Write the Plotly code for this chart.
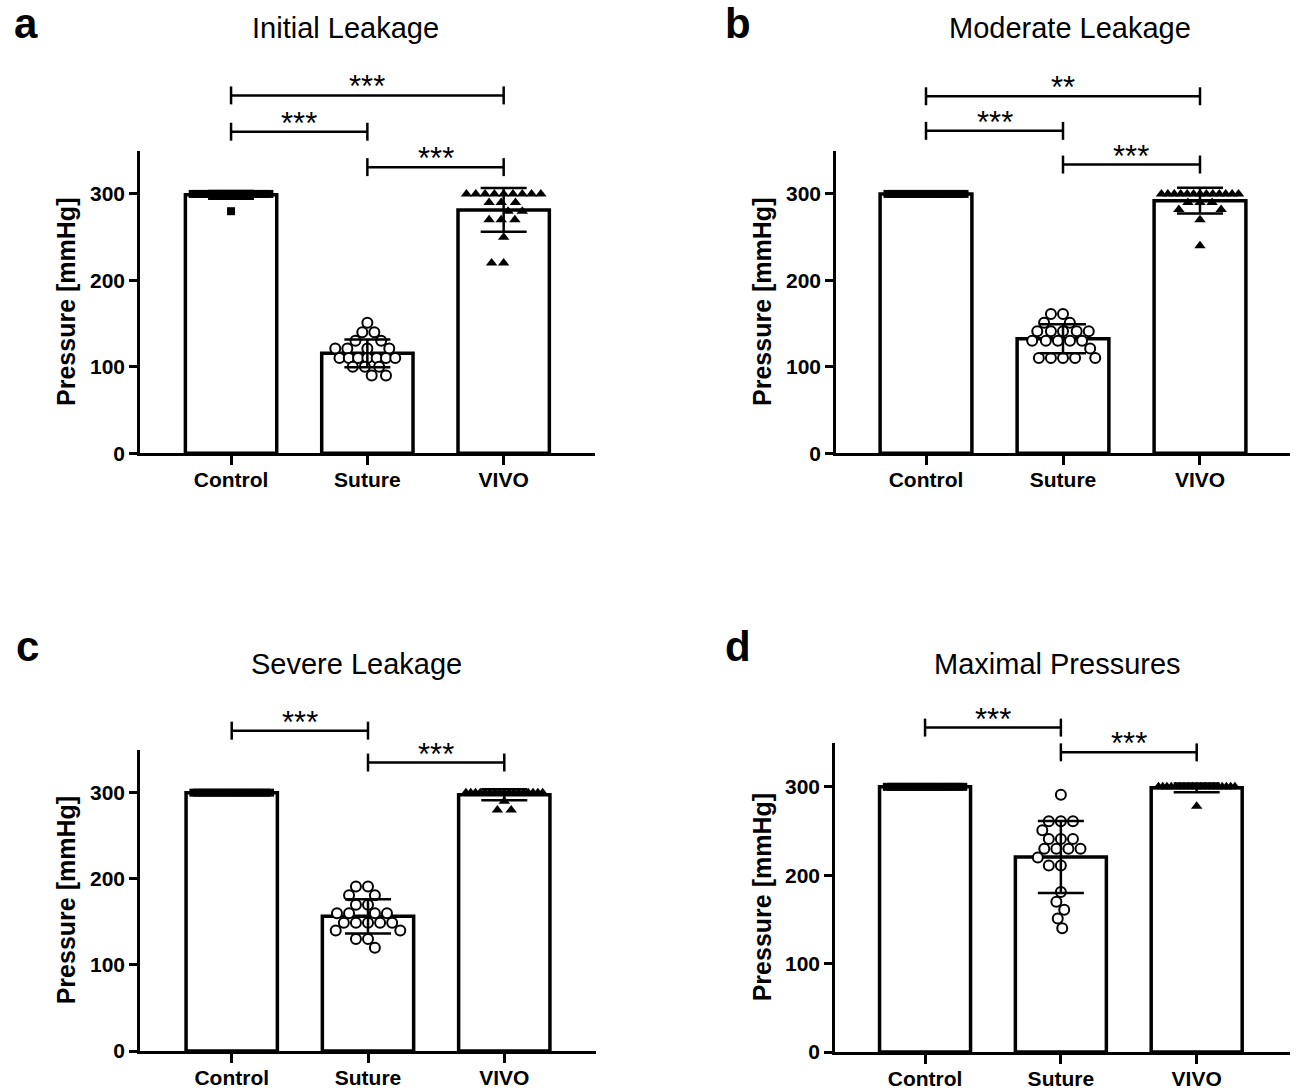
import numpy as np
import plotly.graph_objects as go

W, H = 1298, 1090
H_MAP = 1079  # vertical pixel mapping calibrated against the rendered page
categories = ["Control", "Suture", "VIVO"]
y_ticks = [0, 100, 200, 300]

# ---------------- data (mmHg) ----------------
# a: Initial Leakage
a_control = [300, 300, 300, 300, 300, 300, 300, 300, 300, 300,
             300, 300, 300, 300, 300, 300, 300, 300, 300, 280]
a_suture = [151, 140, 140, 130, 130, 121, 121, 121, 121, 110, 110,
            110, 110, 110, 110, 110, 100, 100, 100, 90, 90]
a_vivo = [300, 300, 300, 300, 300, 300, 300, 300, 300, 290,
          290, 290, 280, 280, 270, 270, 270, 250, 220, 220]
a_brackets = [(0, 2, 414, "***"), (0, 1, 372, "***"), (1, 2, 331, "***")]

# b: Moderate Leakage
b_control = [300, 300, 300, 300, 300, 300, 300, 300, 300, 300,
             300, 300, 300, 300, 300, 300, 300, 300, 300, 300]
b_suture = [161, 161, 151, 151, 141, 141, 141, 141, 141, 130,
            130, 130, 130, 130, 121, 110, 110, 110, 110, 110]
b_vivo = [300, 300, 300, 300, 300, 300, 300, 300, 300, 300,
          300, 300, 300, 290, 290, 290, 282, 282, 270, 240]
b_brackets = [(0, 2, 413, "**"), (0, 1, 373, "***"), (1, 2, 334, "***")]

# c: Severe Leakage
c_control = [300, 300, 300, 300, 300, 300, 300, 300, 300, 300,
             300, 300, 300, 300, 300, 300, 300, 300, 300, 300]
c_suture = [191, 191, 181, 181, 170, 170, 160, 160, 160, 160,
            149, 149, 149, 149, 149, 140, 140, 130, 130, 120]
c_vivo = [300, 300, 300, 300, 300, 300, 300, 300, 300, 300,
          300, 300, 300, 300, 300, 300, 300, 290, 280, 280]
c_brackets = [(0, 1, 372, "***"), (1, 2, 335, "***")]

# d: Maximal Pressures
d_control = [300, 300, 300, 300, 300, 300, 300, 300, 300, 300,
             300, 300, 300, 300, 300, 300, 300, 300, 300, 300]
d_suture = [291, 261, 261, 261, 251, 241, 241, 241, 230, 230,
            230, 230, 220, 211, 211, 181, 170, 161, 151, 140]
d_vivo = [300, 300, 300, 300, 300, 300, 300, 300, 300, 300,
          300, 300, 300, 300, 300, 300, 300, 300, 300, 278]
d_brackets = [(0, 1, 367, "***"), (1, 2, 339, "***")]

# ---------------- layout geometry (pixels) ----------------
panels = [
    dict(letter="a", title="Initial Leakage", groups=(a_control, a_suture, a_vivo),
         brackets=a_brackets, box=(140, 595, 454, 151), xr=(-0.668, 2.67),
         title_px=(345, 28), letter_px=(26, 24), ytitle_x=66),
    dict(letter="b", title="Moderate Leakage", groups=(b_control, b_suture, b_vivo),
         brackets=b_brackets, box=(836, 1290, 454, 151), xr=(-0.657, 2.657),
         title_px=(1070, 28), letter_px=(738, 24), ytitle_x=762),
    dict(letter="c", title="Severe Leakage", groups=(c_control, c_suture, c_vivo),
         brackets=c_brackets, box=(140, 596, 1053, 751), xr=(-0.673, 2.673),
         title_px=(356, 665), letter_px=(27, 648), ytitle_x=66),
    dict(letter="d", title="Maximal Pressures", groups=(d_control, d_suture, d_vivo),
         brackets=d_brackets, box=(835, 1290, 1054, 744), xr=(-0.663, 2.687),
         title_px=(1057, 665), letter_px=(738, 648), ytitle_x=762),
]

YMAX = 350
BAR_W = 0.67
FONT = "Liberation Sans"
symbols = [dict(symbol="square", size=8, color="black", line=dict(width=0)),
           dict(symbol="circle", size=10, color="white", line=dict(width=2, color="black")),
           dict(symbol="triangle-up", size=10, color="black", line=dict(width=0))]


def px_to_paper(px, py):
    return px / W, 1 - py / H_MAP


def data_to_px(p, xv, yv):
    left, right, bottom, top = p["box"]
    x0, x1 = p["xr"]
    px = left + (xv - x0) / (x1 - x0) * (right - left)
    py = bottom - yv / YMAX * (bottom - top)
    return px, py


def swarm(vals, unit_y, unit_x, bar_px, D=10.5, row_sp=9.3, stretch=1.15):
    vals = list(vals)
    n = len(vals)
    xs = [None] * n
    placed = []  # (x, y, collision distance)
    counts = {}
    for v in vals:
        counts[v] = counts.get(v, 0) + 1
    for v, c in counts.items():
        if c >= 6:
            full = (c - 1) * row_sp
            span = min(full, 0.84 * bar_px)
            idx = [i for i in range(n) if vals[i] == v]
            for k, i in enumerate(idx):
                x = (-span / 2 + span * k / (c - 1)) / stretch
                xs[i] = x
                placed.append((x, v * unit_y, 0.55 * D if span < full else 0.85 * D))
    order = sorted(range(n), key=lambda i: -vals[i])
    for i in order:
        if xs[i] is not None:
            continue
        y = vals[i] * unit_y
        cands = [0.0]
        for (qx, qy, dq) in placed:
            dy = abs(qy - y)
            if dy < dq:
                dx = (dq * dq - dy * dy) ** 0.5
                cands += [qx - dx, qx + dx]
        cands.sort(key=lambda c: (round(abs(c), 6), c))
        for c in cands:
            if all((c - qx) ** 2 + (y - qy) ** 2 >= dq * dq - 1e-6 for qx, qy, dq in placed):
                xs[i] = c
                break
        placed.append((xs[i], y, D))
    return [x * stretch / unit_x for x in xs]


fig = go.Figure()
annotations = []
shapes = []
layout_axes = {}

for k, p in enumerate(panels):
    sfx = "" if k == 0 else str(k + 1)
    xa, ya = "x" + sfx, "y" + sfx
    left, right, bottom, top = p["box"]
    x0, x1 = p["xr"]
    unit_x = (right - left) / (x1 - x0)
    unit_y = (bottom - top) / YMAX

    means = [float(np.mean(g)) for g in p["groups"]]
    sds = [float(np.std(g, ddof=1)) for g in p["groups"]]

    fig.add_trace(go.Bar(x=[0, 1, 2], y=means, width=BAR_W, xaxis=xa, yaxis=ya,
                         marker=dict(color="white", line=dict(color="black", width=3.5)),
                         hoverinfo="skip"))
    for gi, g in enumerate(p["groups"]):
        offs = swarm(g, unit_y, unit_x, BAR_W * unit_x)
        fig.add_trace(go.Scatter(x=[gi + o for o in offs], y=g, mode="markers",
                                 xaxis=xa, yaxis=ya, marker=symbols[gi], cliponaxis=False))
    fig.add_trace(go.Scatter(x=[0, 1, 2], y=means, mode="markers", xaxis=xa, yaxis=ya,
                             marker=dict(size=2, opacity=0),
                             error_y=dict(type="data", array=sds, visible=True,
                                          color="black", thickness=2.5, width=23)))

    xname = "xaxis" + sfx
    yname = "yaxis" + sfx
    _, yb = px_to_paper(0, bottom)
    _, yt = px_to_paper(0, top)
    layout_axes[xname] = dict(domain=[left / W, right / W], range=[x0, x1], anchor=ya,
                              tickvals=[0, 1, 2], ticktext=categories, ticks="outside",
                              ticklen=9, tickwidth=2.5, tickcolor="black",
                              ticklabelstandoff=-3,
                              showline=True, linewidth=2.5, linecolor="black",
                              showgrid=False, zeroline=False,
                              tickfont=dict(family=FONT, size=21, color="black", weight="bold"))
    layout_axes[yname] = dict(domain=[yb, yt], range=[0, YMAX], anchor=xa,
                              tickvals=y_ticks, ticks="outside", ticklen=8, tickwidth=2.5,
                              tickcolor="black", showline=True, linewidth=2.5,
                              linecolor="black", showgrid=False, zeroline=False,
                              tickfont=dict(family=FONT, size=21, color="black", weight="bold"))

    # significance brackets
    for (ga, gb, yv, label) in p["brackets"]:
        pxa, py = data_to_px(p, ga, yv)
        pxb, _ = data_to_px(p, gb, yv)
        for (sx0, sy0, sx1, sy1) in [(pxa, py, pxb, py), (pxa, py - 9, pxa, py + 9),
                                     (pxb, py - 9, pxb, py + 9)]:
            X0, Y0 = px_to_paper(sx0, sy0)
            X1, Y1 = px_to_paper(sx1, sy1)
            shapes.append(dict(type="line", xref="paper", yref="paper", x0=X0, y0=Y0,
                               x1=X1, y1=Y1, line=dict(color="black", width=2.5)))
        cx, cy = px_to_paper((pxa + pxb) / 2, py + 11)
        annotations.append(dict(text=label, x=cx, y=cy, xref="paper", yref="paper",
                                xanchor="center", yanchor="bottom", showarrow=False,
                                font=dict(family=FONT, size=31, color="black")))

    tx, ty = px_to_paper(*p["title_px"])
    annotations.append(dict(text=p["title"], x=tx, y=ty, xref="paper", yref="paper",
                            xanchor="center", yanchor="middle", showarrow=False,
                            font=dict(family=FONT, size=29, color="black")))
    lx, ly = px_to_paper(*p["letter_px"])
    annotations.append(dict(text=p["letter"], x=lx, y=ly, xref="paper", yref="paper",
                            xanchor="center", yanchor="middle", showarrow=False,
                            font=dict(family=FONT, size=42, color="black", weight="bold")))
    ax_, ay_ = px_to_paper(p["ytitle_x"], (bottom + top) / 2)
    annotations.append(dict(text="Pressure [mmHg]", x=ax_, y=ay_, xref="paper", yref="paper",
                            xanchor="center", yanchor="middle", textangle=-90, showarrow=False,
                            font=dict(family=FONT, size=25, color="black", weight="bold")))

fig.update_layout(width=W, height=H, margin=dict(l=0, r=0, t=0, b=0),
                  paper_bgcolor="white", plot_bgcolor="white", showlegend=False,
                  barmode="overlay", annotations=annotations, shapes=shapes, **layout_axes)

post = (
    "document.documentElement.style.margin='0px';"
    "document.body.style.margin='0px';"
    "document.documentElement.style.overflow='hidden';"
    "document.body.style.overflow='hidden';"
)
fig.write_html("out.html", config={"displayModeBar": False}, post_script=post)
